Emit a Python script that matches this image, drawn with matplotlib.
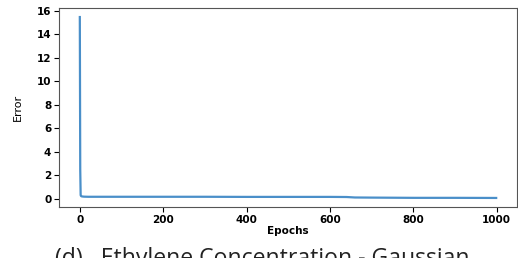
import matplotlib
matplotlib.use("Agg")
import matplotlib.pyplot as plt

epochs = [0, 1, 2, 3, 5, 10, 20, 50, 100, 200, 300, 400, 500, 600, 640, 660, 700, 800, 900, 999]
errors = [15.45, 2.5, 0.30, 0.22, 0.19, 0.17, 0.16, 0.16, 0.16, 0.16, 0.16, 0.15, 0.15, 0.15, 0.14, 0.10, 0.09, 0.07, 0.07, 0.06]

xticks = [0, 200, 400, 600, 800, 1000]
yticks = [0, 2, 4, 6, 8, 10, 12, 14, 16]

fig = plt.figure(figsize=(5.18, 2.58), dpi=100)
ax = fig.add_axes([59/518, 1-207/258, (517-59)/518, (207-8)/258])
ax.plot(epochs, errors, color="#4a8fc9", lw=1.6)
ax.set_xticks(xticks)
ax.set_yticks(yticks)
for lab in ax.get_xticklabels() + ax.get_yticklabels():
    lab.set_fontweight("bold")
    lab.set_fontsize(7.5)
ax.tick_params(length=3.5, width=0.8, pad=2)
ax.set_xlabel("Epochs", fontsize=7.5, fontweight="bold", labelpad=1)
ax.set_ylabel("Error", fontsize=8, family=["Liberation Sans Narrow", "DejaVu Sans"], labelpad=10)
for s in ax.spines.values():
    s.set_color("#555555")
fig.text(0.506, 1-247/258, "(d)   Ethylene Concentration - Gaussian", ha="center", va="top",
         fontsize=16.6, family=["Open Sans", "DejaVu Sans"], color="#222222")
fig.savefig("out.png", dpi=100)
